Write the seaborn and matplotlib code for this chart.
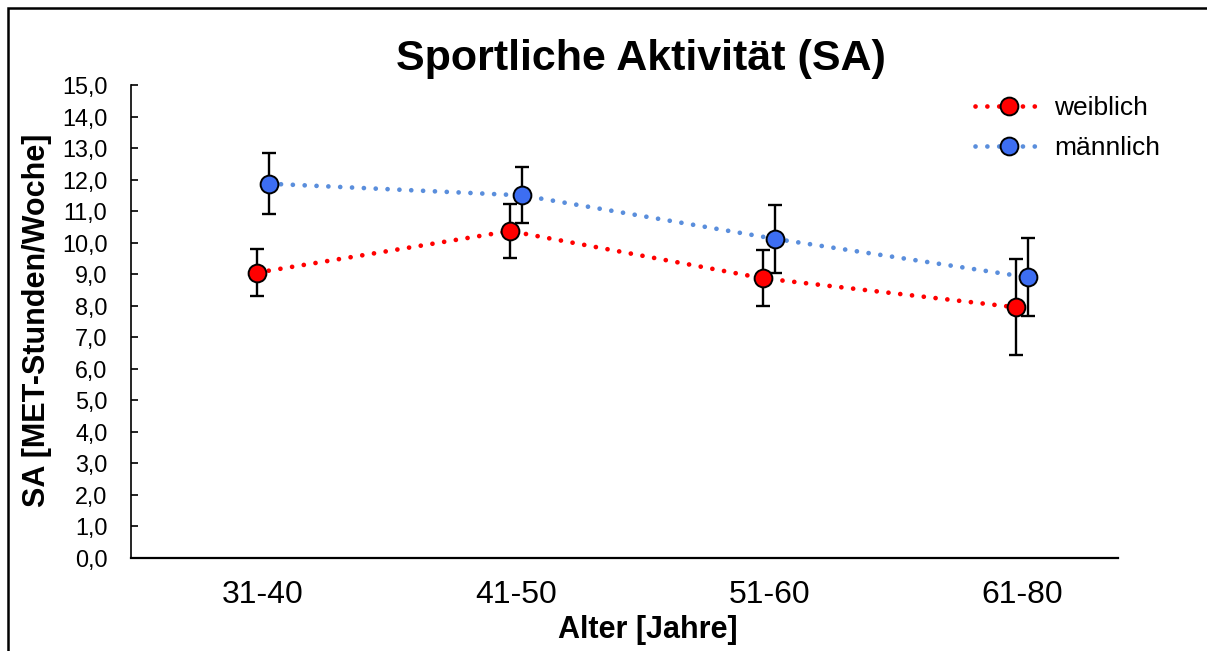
import numpy as np
import pandas as pd
import seaborn as sns
import matplotlib
matplotlib.use("Agg")
import matplotlib.pyplot as plt
from matplotlib.lines import Line2D
from matplotlib.patches import Rectangle

# ---- data ----
categories = ["31-40", "41-50", "51-60", "61-80"]
weiblich = [9.05, 10.37, 8.87, 7.95]
weiblich_err = [0.75, 0.87, 0.89, 1.52]
maennlich = [11.87, 11.50, 10.12, 8.90]
maennlich_err = [0.97, 0.89, 1.07, 1.24]
series_names = ["weiblich", "männlich"]
yticks = np.arange(0, 16, 1)

sns.set_theme(style="white")
plt.rcParams["font.family"] = ["Liberation Sans", "DejaVu Sans"]
plt.rcParams.update({"text.color": "black", "axes.labelcolor": "black",
                     "xtick.color": "black", "ytick.color": "black"})

fig = plt.figure(figsize=(12.07, 6.51), dpi=100)
ax = fig.add_axes([131/1207, 93/651, (1118-131)/1207, (558-85)/651])

red = "#FF0000"
blue_fill = "#3D6EF2"
blue_line = "#5A8EDC"
offset = 0.024
dot_style = (0, (0.01, 2.5))
lw = 3.4

pos = np.arange(len(categories))
df_w = pd.DataFrame({"x": pos - offset, "y": weiblich})
df_m = pd.DataFrame({"x": pos + offset, "y": maennlich})

marker_kw = dict(marker="o", markersize=12.8, markeredgecolor="black", markeredgewidth=1.4)

for df, err in [(df_w, weiblich_err), (df_m, maennlich_err)]:
    ax.errorbar(df["x"], df["y"], yerr=err, fmt="none", ecolor="black", elinewidth=1.7,
                capsize=4.8, capthick=1.7, zorder=2)

for df, lc, fc in [(df_w, red, red), (df_m, blue_line, blue_fill)]:
    sns.lineplot(data=df, x="x", y="y", ax=ax, color=lc, markerfacecolor=fc,
                 linewidth=lw, linestyle=dot_style, dash_capstyle="round", zorder=3, **marker_kw)

ax.set_xlim(-0.522, 3.379)
ax.set_ylim(0, 15)
ax.set_xticks(pos)
ax.set_xticklabels(categories, fontsize=23)
ax.set_yticks(yticks)
ax.set_yticklabels([f"{v:.1f}".replace(".", ",") for v in yticks], fontsize=16.8)
ax.tick_params(axis="x", length=0, pad=16)
ax.tick_params(axis="y", length=5, width=1.2, direction="in", left=True, pad=17)
for s in ["top", "right"]:
    ax.spines[s].set_visible(False)
for s in ["left", "bottom"]:
    ax.spines[s].set_color("black")
ax.spines["left"].set_linewidth(1.2)
ax.spines["bottom"].set_linewidth(1.6)
ax.set_xlabel("")
ax.set_ylabel("")

fig.text(0.531, 1 - 59/651, "Sportliche Aktivität (SA)", ha="center", va="center",
         fontsize=31, fontweight="bold")
fig.text(37/1207, 1 - 320/651, "SA [MET-Stunden/Woche]", rotation=90, ha="center",
         va="center", fontsize=22, fontweight="bold")
fig.text(648/1207, 1 - 630/651, "Alter [Jahre]", ha="center", va="center",
         fontsize=22, fontweight="bold")

handles = [
    Line2D([], [], color=red, linestyle=dot_style, dash_capstyle="round", linewidth=lw,
           markerfacecolor=red, **marker_kw),
    Line2D([], [], color=blue_line, linestyle=dot_style, dash_capstyle="round", linewidth=lw,
           markerfacecolor=blue_fill, **marker_kw),
]
leg = ax.legend(handles, series_names, loc="upper left", bbox_to_anchor=(967/1207, 1 - 88/651),
                bbox_transform=fig.transFigure, frameon=False, borderaxespad=0, borderpad=0.3,
                fontsize=19, handlelength=2.6, handletextpad=0.4, labelspacing=0.62)

fig.add_artist(Rectangle((8/1207, -0.1), 1.2, 1 - 8/651 + 0.1, transform=fig.transFigure,
                         fill=False, edgecolor="black", linewidth=1.8))

fig.savefig("out.png", dpi=100)
